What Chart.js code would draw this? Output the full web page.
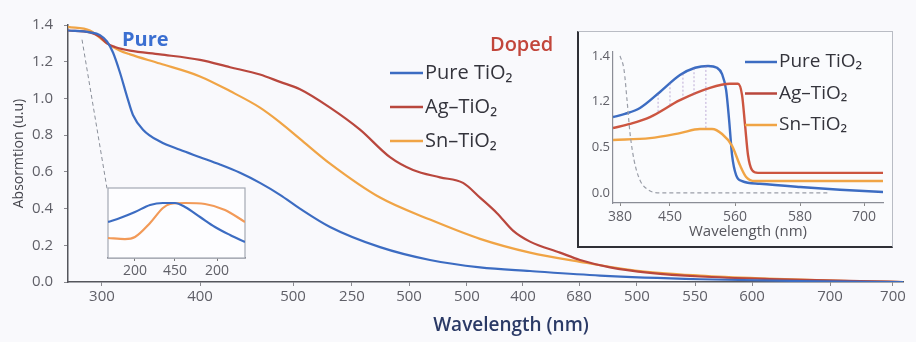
<!DOCTYPE html>
<html>
<head>
<meta charset="utf-8">
<script src="https://cdn.jsdelivr.net/npm/chart.js@4.4.1/dist/chart.umd.min.js"></script>
<style>
  html, body { margin: 0; padding: 0; background: #f9f9fc; }
  #wrap { position: relative; width: 916px; height: 342px; overflow: hidden; }
  canvas { position: absolute; }
  #main { left: 0; top: 0; }
  #leftInset { left: 100px; top: 180px; }
  #rightBox {
    position: absolute; left: 577px; top: 31px; width: 313px; height: 214px;
    border: 1px solid #b9bcc4; border-left: 2px solid #2f3036; border-bottom: 2px solid #2f3036;
    background: #fafbfd;
  }
  #rightInset { left: 0; top: 0; }
</style>
</head>
<body>
<div id="wrap">
  <canvas id="main" width="916" height="342"></canvas>
  <canvas id="leftInset" width="155" height="100"></canvas>
  <div id="rightBox"><canvas id="rightInset" width="313" height="214"></canvas></div>
</div>
<script>
// ---- data ----
// main panel: x = position along the axis (0-100), y = absorbance
const mainTickPos = [4.07, 15.81, 26.95, 34.01, 40.84, 47.78, 54.49, 61.2, 68.14, 75.09, 81.92, 91.26, 98.8];
const mainTickLabels = ['300', '400', '500', '250', '500', '500', '400', '680', '500', '550', '600', '700', '700'];
const mainYTicks = [0, 0.2, 0.4, 0.6, 0.8, 1.0, 1.2, 1.4];
const seriesNames = ['Pure TiO\u2082', 'Ag\u2013TiO\u2082', 'Sn\u2013TiO\u2082'];

const pureX = [0, 2.63, 3.83, 4.67, 5.39, 6.23, 7.07, 7.78, 8.98, 11.02, 13.41, 15.81, 18.2, 20.6, 22.99, 25.39, 27.78, 31.38, 37.37, 43.35, 49.34, 55.33, 63.71, 75.69, 87.66, 100];
const pureY = [1.37, 1.36, 1.345, 1.31, 1.25, 1.14, 1.01, 0.91, 0.83, 0.765, 0.72, 0.68, 0.64, 0.595, 0.54, 0.475, 0.40, 0.30, 0.19, 0.12, 0.08, 0.06, 0.035, 0.015, 0.005, 0];

const agX = [0, 2.63, 3.83, 4.67, 5.63, 7.43, 11.02, 15.81, 19.4, 22.99, 25.39, 27.78, 31.38, 34.97, 38.56, 41.32, 44.55, 47.31, 49.34, 51.38, 53.29, 55.33, 58.92, 61.32, 64.91, 69.7, 75.69, 85.27, 94.85, 100];
const agY = [1.37, 1.36, 1.335, 1.30, 1.28, 1.26, 1.24, 1.21, 1.17, 1.13, 1.09, 1.05, 0.95, 0.83, 0.68, 0.61, 0.57, 0.54, 0.46, 0.375, 0.28, 0.22, 0.16, 0.12, 0.08, 0.05, 0.03, 0.015, 0.005, 0];

const snX = [0, 2.63, 3.83, 4.67, 6.23, 7.43, 11.02, 15.81, 19.4, 22.99, 25.39, 27.78, 31.38, 37.37, 43.35, 49.34, 55.33, 61.32, 68.5, 75.69, 82.87, 93.65, 100];
const snY = [1.39, 1.37, 1.33, 1.30, 1.26, 1.24, 1.19, 1.12, 1.04, 0.95, 0.87, 0.78, 0.645, 0.46, 0.34, 0.235, 0.16, 0.11, 0.06, 0.035, 0.02, 0.005, 0];

// dashed pointer from the curves down to the small inset
const guideX = [1.68, 4.67];
const guideY = [1.32, 0.51];

// small inset (bottom left), no y labels
const leftTickPos = [19.7, 48.9, 79.6];
const leftTickLabels = ['200', '450', '200'];
const leftPureX = [0, 8.8, 19.7, 30.7, 40.1, 48.9, 56.2, 67.2, 78.1, 89.1, 100];
const leftPureY = [0.514, 0.571, 0.657, 0.757, 0.786, 0.786, 0.729, 0.586, 0.443, 0.329, 0.229];
const leftSnX = [0, 12.4, 19.7, 30.7, 40.1, 45.3, 56.2, 70.8, 85.4, 100];
const leftSnY = [0.286, 0.271, 0.30, 0.5, 0.714, 0.771, 0.786, 0.771, 0.686, 0.514];

// right inset: y ticks sit at 0,1,2,3
const insetTickPos = [2.6, 21.1, 45.2, 69.3, 93.0];
const insetTickLabels = ['380', '450', '560', '580', '700'];
const insetYTickPos = [0, 1, 2, 3];
const insetYTickLabels = ['0.0', '0.5', '1.2', '1.4'];
const insetPureX = [0, 4.4, 10, 17.4, 24.8, 30.4, 35.2, 38.5, 40.4, 41.9, 43.0, 44.1, 45.6, 47.8, 54.4, 69.3, 84.1, 100];
const insetPureY = [1.66, 1.73, 1.86, 2.21, 2.58, 2.74, 2.78, 2.74, 2.60, 2.25, 1.60, 0.83, 0.39, 0.26, 0.20, 0.13, 0.07, 0.02];
const insetAgX = [0, 6.3, 13.7, 24.8, 35.9, 43.3, 46.3, 47.8, 48.9, 50.0, 51.5, 53.7, 100];
const insetAgY = [1.42, 1.51, 1.66, 2.03, 2.30, 2.39, 2.39, 2.14, 1.49, 0.83, 0.50, 0.44, 0.44];
const insetSnX = [0, 13.7, 24.8, 32.2, 36.7, 40.4, 44.1, 47.0, 49.3, 52.6, 100];
const insetSnY = [1.16, 1.20, 1.31, 1.40, 1.40, 1.29, 1.03, 0.61, 0.35, 0.26, 0.26];
const insetRefX = [2.6, 4.1, 5.2, 6.3, 7.8, 10.0, 13.0, 17.4, 80.4];
const insetRefY = [3.0, 2.69, 2.03, 1.31, 0.72, 0.28, 0.07, 0, 0];
const hatchX = [16.7, 21.1, 25.9, 30.0, 34.4];
const hatchTop = [2.17, 2.40, 2.61, 2.73, 2.78];
const hatchBottom = [1.76, 1.90, 2.07, 2.16, 1.40];

// ---- styling ----
const FONT = '"Open Sans", "Noto Sans", sans-serif';
const BLUE = '#3c6cc2';
const RED = '#b9473d';
const ORANGE = '#f0a445';
const seriesColors = [BLUE, RED, ORANGE];

Chart.defaults.font.family = FONT;

const pts = (xs, ys) => xs.map((x, i) => ({ x: x, y: ys[i] }));

function hatchPoints() {
    const out = [];
    hatchX.forEach((x, i) => {
        out.push({ x: x, y: hatchTop[i] }, { x: x, y: hatchBottom[i] }, { x: x, y: null });
    });
    return out;
}

// draws a small legend with line samples
function drawLegend(ctx, x, y0, rowGap, lineLen, fontSize) {
    ctx.save();
    ctx.font = fontSize + 'px ' + FONT;
    ctx.textBaseline = 'middle';
    ctx.textAlign = 'left';
    seriesNames.forEach((name, i) => {
        const y = y0 + i * rowGap;
        ctx.strokeStyle = seriesColors[i];
        ctx.lineWidth = 2.5;
        ctx.beginPath();
        ctx.moveTo(x, y);
        ctx.lineTo(x + lineLen, y);
        ctx.stroke();
        ctx.fillStyle = '#34343c';
        ctx.fillText(name, x + lineLen + 2, y);
    });
    ctx.restore();
}

const mainDecor = {
    id: 'mainDecor',
    afterDraw(chart) {
        const ctx = chart.ctx;
        ctx.save();
        ctx.textBaseline = 'middle';
        ctx.font = '700 20px ' + FONT;
        ctx.fillStyle = '#3b6fd1';
        ctx.fillText('Pure', 122, 40);
        ctx.fillStyle = '#c2463b';
        ctx.font = '600 20px ' + FONT;
        ctx.fillText('Doped', 490, 45);
        ctx.font = '600 19px ' + FONT;
        ctx.fillStyle = '#2b3a66';
        ctx.textAlign = 'center';
        ctx.fillText('Wavelength (nm)', 511, 326);
        ctx.restore();
        drawLegend(ctx, 390, 73, 34, 33, 20);
    }
};

const leftFrame = {
    id: 'leftFrame',
    beforeDatasetsDraw(chart) {
        const a = chart.chartArea;
        const ctx = chart.ctx;
        ctx.save();
        ctx.fillStyle = '#fdfdff';
        ctx.fillRect(a.left, a.top, a.right - a.left, a.bottom - a.top);
        ctx.strokeStyle = '#a3a8b3';
        ctx.lineWidth = 1.2;
        ctx.strokeRect(a.left, a.top, a.right - a.left, a.bottom - a.top);
        ctx.restore();
    }
};

const rightLegend = {
    id: 'rightLegend',
    afterDraw(chart) {
        drawLegend(chart.ctx, 166, 30, 31.5, 32, 19);
    }
};

// ---- main chart ----
new Chart(document.getElementById('main'), {
    type: 'line',
    data: {
        datasets: [
            { label: seriesNames[0], data: pts(pureX, pureY), borderColor: BLUE },
            { label: seriesNames[1], data: pts(agX, agY), borderColor: RED },
            { label: seriesNames[2], data: pts(snX, snY), borderColor: ORANGE },
            { label: 'guide', data: pts(guideX, guideY), borderColor: '#8a8f99', borderWidth: 1, borderDash: [4, 3], cubicInterpolationMode: 'default', tension: 0 }
        ]
    },
    options: {
        responsive: false,
        animation: false,
        devicePixelRatio: 1,
        layout: { padding: { top: 25, right: 13, left: 0, bottom: 0 } },
        plugins: { legend: { display: false }, tooltip: { enabled: false } },
        elements: {
            point: { radius: 0 },
            line: { borderWidth: 2.2, cubicInterpolationMode: 'monotone' }
        },
        scales: {
            x: {
                type: 'linear', min: 0, max: 100,
                afterBuildTicks: s => { s.ticks = mainTickPos.map(v => ({ value: v })); },
                afterFit: s => { s.height = 60; },
                ticks: {
                    callback: (v, i) => mainTickLabels[i],
                    color: '#606068', font: { size: 15 }, padding: 2,
                    maxRotation: 0, autoSkip: false
                },
                grid: { drawOnChartArea: false, tickLength: 4, color: '#8a8a90' },
                border: { color: '#55565c', width: 1.5 }
            },
            y: {
                type: 'linear', min: 0, max: 1.4,
                afterBuildTicks: s => { s.ticks = mainYTicks.map(v => ({ value: v })); },
                afterFit: s => { s.width = 68; },
                ticks: {
                    callback: v => v.toFixed(1),
                    color: '#606068', font: { size: 15 }, padding: 11
                },
                grid: { drawOnChartArea: false, tickLength: 4, color: '#8a8a90' },
                border: { color: '#55565c', width: 1.5 },
                title: {
                    display: true, text: 'Absormtion (u.u)',
                    color: '#45454c', font: { size: 14 }, padding: { top: 11, bottom: 0 }
                }
            }
        }
    },
    plugins: [mainDecor]
});

// ---- small inset, bottom left ----
new Chart(document.getElementById('leftInset'), {
    type: 'line',
    data: {
        datasets: [
            { data: pts(leftPureX, leftPureY), borderColor: BLUE },
            { data: pts(leftSnX, leftSnY), borderColor: '#f29a58' }
        ]
    },
    options: {
        responsive: false,
        animation: false,
        devicePixelRatio: 1,
        layout: { padding: { top: 8, right: 10, left: 8, bottom: 0 } },
        plugins: { legend: { display: false }, tooltip: { enabled: false } },
        elements: {
            point: { radius: 0 },
            line: { borderWidth: 2.2, cubicInterpolationMode: 'monotone' }
        },
        scales: {
            x: {
                type: 'linear', min: 0, max: 100,
                afterBuildTicks: s => { s.ticks = leftTickPos.map(v => ({ value: v })); },
                afterFit: s => { s.height = 22; },
                ticks: {
                    callback: (v, i) => leftTickLabels[i],
                    color: '#606068', font: { size: 14 }, padding: 2,
                    maxRotation: 0, autoSkip: false
                },
                grid: { drawOnChartArea: false, tickLength: 3, color: '#777' },
                border: { color: '#707078', width: 1.5 }
            },
            y: { display: false, min: 0, max: 1 }
        }
    },
    plugins: [leftFrame]
});

// ---- right inset ----
new Chart(document.getElementById('rightInset'), {
    type: 'line',
    data: {
        datasets: [
            { data: hatchPoints(), borderColor: 'rgba(150,120,190,0.6)', borderWidth: 1, borderDash: [2, 2], spanGaps: false, cubicInterpolationMode: 'default', tension: 0 },
            { data: pts(insetRefX, insetRefY), borderColor: '#9a9ea8', borderWidth: 1.2, borderDash: [4, 3] },
            { data: pts(insetSnX, insetSnY), borderColor: ORANGE },
            { data: pts(insetAgX, insetAgY), borderColor: '#cc5540' },
            { data: pts(insetPureX, insetPureY), borderColor: BLUE }
        ]
    },
    options: {
        responsive: false,
        animation: false,
        devicePixelRatio: 1,
        layout: { padding: { top: 20, right: 9, left: 0, bottom: 0 } },
        plugins: { legend: { display: false }, tooltip: { enabled: false } },
        elements: {
            point: { radius: 0 },
            line: { borderWidth: 2.4, cubicInterpolationMode: 'monotone' }
        },
        scales: {
            x: {
                type: 'linear', min: 0, max: 100,
                afterBuildTicks: s => { s.ticks = insetTickPos.map(v => ({ value: v })); },
                afterFit: s => { s.height = 43; },
                ticks: {
                    callback: (v, i) => insetTickLabels[i],
                    color: '#606068', font: { size: 14 }, padding: 3,
                    maxRotation: 0, autoSkip: false
                },
                grid: { drawOnChartArea: false, tickLength: 3, color: '#888' },
                border: { color: '#8a8d96', width: 1.2 },
                title: {
                    display: true, text: 'Wavelength (nm)',
                    color: '#55555c', font: { size: 15 }, padding: { top: 0, bottom: 5 }
                }
            },
            y: {
                type: 'linear', min: -0.22, max: 3.085,
                afterBuildTicks: s => { s.ticks = insetYTickPos.map(v => ({ value: v })); },
                afterFit: s => { s.width = 34; },
                ticks: {
                    callback: (v, i) => insetYTickLabels[i],
                    color: '#606068', font: { size: 13 }, padding: 3
                },
                grid: { drawOnChartArea: false, drawTicks: false },
                border: { color: '#8a8d96', width: 1.2 }
            }
        }
    },
    plugins: [rightLegend]
});
</script>
</body>
</html>
